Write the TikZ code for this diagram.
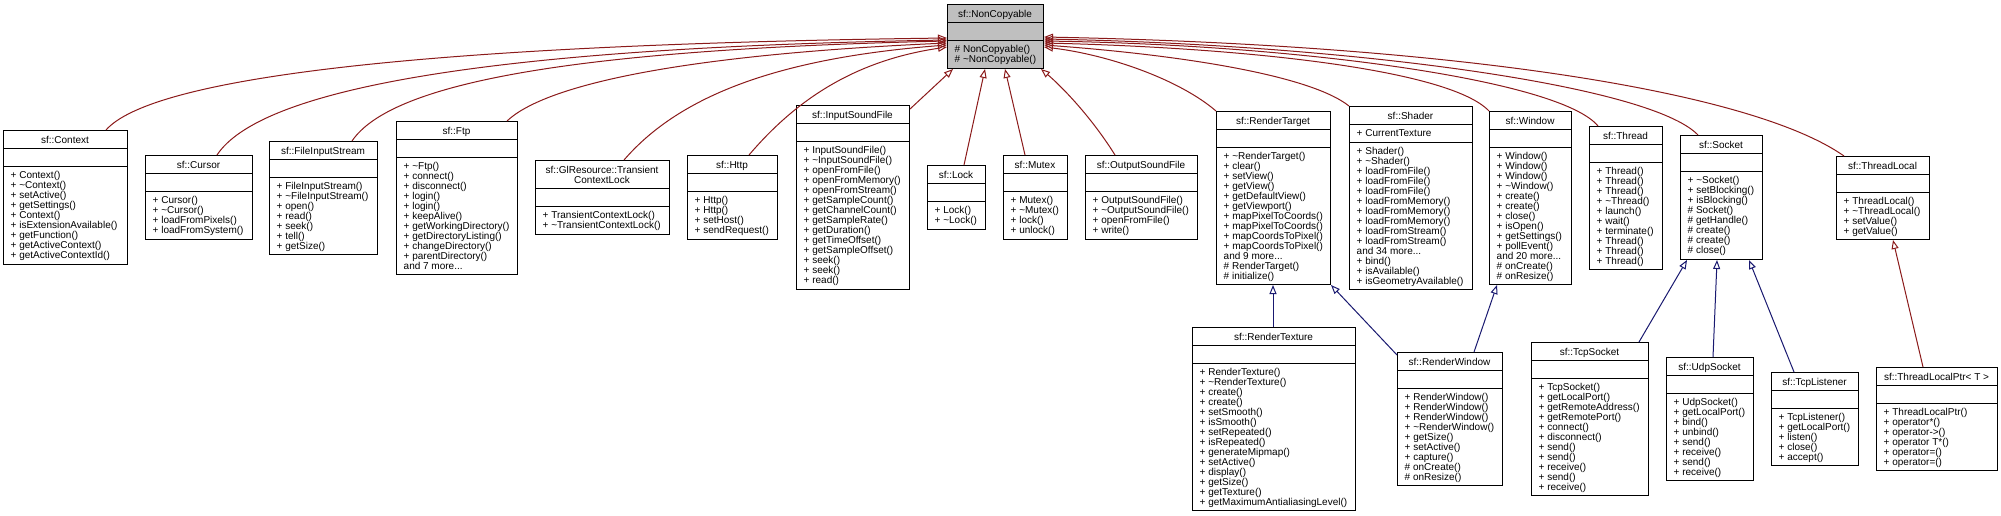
\documentclass[tikz,border=0pt]{standalone}
\usepackage{fontspec}
\setmainfont{Liberation Sans}
\usetikzlibrary{arrows.meta}
\definecolor{privred}{HTML}{8B1A1A}
\definecolor{pubblue}{HTML}{191970}
\definecolor{ncgray}{HTML}{BFBFBF}
\newcommand{\Tld}{\textasciitilde}
\newcommand{\clsfill}{white}
\tikzset{
  clsbox/.style={draw=black, fill=\clsfill, line width=1pt, inner sep=0pt, anchor=north west},
  clstext/.style={font=\fontsize{10}{10}\selectfont, inner sep=0pt},
  inh/.style={line width=1pt, -{Triangle[open, length=9pt, width=7pt]}},
  priv/.style={inh, draw=privred},
  pub/.style={inh, draw=pubblue},
}
% #1 title height, #2 id, #3 left, #4 top, #5 right, #6 bottom, #7 title, #8 attributes, #9 members
\newcommand{\umlclass}[9][18]{%
  \node[clsbox, minimum width={(#5-#3)*1pt}, minimum height={(#6-#4)*1pt}] (#2) at (#3,#4) {};
  \draw[line width=1pt] (#3,{#4+#1}) -- (#5,{#4+#1});
  \draw[line width=1pt] (#3,{#4+#1+18}) -- (#5,{#4+#1+18});
  \node[clstext, anchor=north, align=center] (#2-t) at ({(#3+#5)/2},{#4+5}) {\rule{0pt}{8pt}#7};
  \node[clstext, anchor=north west, align=left] (#2-a) at ({#3+7.5},{#4+#1+4}) {\rule{0pt}{8pt}#8};
  \node[clstext, anchor=north west, align=left] (#2-m) at ({#3+7.5},{#4+#1+22}) {\rule{0pt}{8pt}#9};
}
\begin{document}
\begin{tikzpicture}[x=1pt, y=-1pt]
\fill[white] (0,0) rectangle (2001,515);
\useasboundingbox (0,0) rectangle (2001,515);

% base class
\renewcommand{\clsfill}{ncgray}
\umlclass{nc}{947}{4}{1043}{68}{sf::NonCopyable}{}{\# NonCopyable()\\\# \Tld NonCopyable()}
\renewcommand{\clsfill}{white}

% top row
\umlclass{ctx}{3}{130}{127}{264}{sf::Context}{}{+ Context()\\+ \Tld Context()\\+ setActive()\\+ getSettings()\\+ Context()\\+ isExtensionAvailable()\\+ getFunction()\\+ getActiveContext()\\+ getActiveContextId()}
\umlclass{cur}{145}{155}{252}{239}{sf::Cursor}{}{+ Cursor()\\+ \Tld Cursor()\\+ loadFromPixels()\\+ loadFromSystem()}
\umlclass{fis}{269}{141}{377}{254}{sf::FileInputStream}{}{+ FileInputStream()\\+ \Tld FileInputStream()\\+ open()\\+ read()\\+ seek()\\+ tell()\\+ getSize()}
\umlclass{ftp}{396}{121}{517}{274}{sf::Ftp}{}{+ \Tld Ftp()\\+ connect()\\+ disconnect()\\+ login()\\+ login()\\+ keepAlive()\\+ getWorkingDirectory()\\+ getDirectoryListing()\\+ changeDirectory()\\+ parentDirectory()\\and 7 more...}
\umlclass[28]{tcl}{535}{160}{669}{234}{sf::GlResource::Transient\\ContextLock}{}{+ TransientContextLock()\\+ \Tld TransientContextLock()}
\umlclass{http}{687}{155}{777}{239}{sf::Http}{}{+ Http()\\+ Http()\\+ setHost()\\+ sendRequest()}
\umlclass{isf}{796}{105}{909}{289}{sf::InputSoundFile}{}{+ InputSoundFile()\\+ \Tld InputSoundFile()\\+ openFromFile()\\+ openFromMemory()\\+ openFromStream()\\+ getSampleCount()\\+ getChannelCount()\\+ getSampleRate()\\+ getDuration()\\+ getTimeOffset()\\+ getSampleOffset()\\+ seek()\\+ seek()\\+ read()}
\umlclass{lock}{927}{165}{985}{229}{sf::Lock}{}{+ Lock()\\+ \Tld Lock()}
\umlclass{mtx}{1003}{155}{1067}{239}{sf::Mutex}{}{+ Mutex()\\+ \Tld Mutex()\\+ lock()\\+ unlock()}
\umlclass{osf}{1085}{155}{1197}{239}{sf::OutputSoundFile}{}{+ OutputSoundFile()\\+ \Tld OutputSoundFile()\\+ openFromFile()\\+ write()}
\umlclass{rt}{1216}{111}{1330}{284}{sf::RenderTarget}{}{+ \Tld RenderTarget()\\+ clear()\\+ setView()\\+ getView()\\+ getDefaultView()\\+ getViewport()\\+ mapPixelToCoords()\\+ mapPixelToCoords()\\+ mapCoordsToPixel()\\+ mapCoordsToPixel()\\and 9 more...\\\# RenderTarget()\\\# initialize()}
\umlclass{sh}{1349}{106}{1472}{289}{sf::Shader}{+ CurrentTexture}{+ Shader()\\+ \Tld Shader()\\+ loadFromFile()\\+ loadFromFile()\\+ loadFromFile()\\+ loadFromMemory()\\+ loadFromMemory()\\+ loadFromMemory()\\+ loadFromStream()\\+ loadFromStream()\\and 34 more...\\+ bind()\\+ isAvailable()\\+ isGeometryAvailable()}
\umlclass{win}{1489}{111}{1571}{284}{sf::Window}{}{+ Window()\\+ Window()\\+ Window()\\+ \Tld Window()\\+ create()\\+ create()\\+ close()\\+ isOpen()\\+ getSettings()\\+ pollEvent()\\and 20 more...\\\# onCreate()\\\# onResize()}
\umlclass{thr}{1589}{126}{1662}{269}{sf::Thread}{}{+ Thread()\\+ Thread()\\+ Thread()\\+ \Tld Thread()\\+ launch()\\+ wait()\\+ terminate()\\+ Thread()\\+ Thread()\\+ Thread()}
\umlclass{sock}{1680}{135}{1762}{259}{sf::Socket}{}{+ \Tld Socket()\\+ setBlocking()\\+ isBlocking()\\\# Socket()\\\# getHandle()\\\# create()\\\# create()\\\# close()}
\umlclass{tl}{1836}{156}{1929}{239}{sf::ThreadLocal}{}{+ ThreadLocal()\\+ \Tld ThreadLocal()\\+ setValue()\\+ getValue()}

% bottom row
\umlclass{rtex}{1192}{327}{1355}{510}{sf::RenderTexture}{}{+ RenderTexture()\\+ \Tld RenderTexture()\\+ create()\\+ create()\\+ setSmooth()\\+ isSmooth()\\+ setRepeated()\\+ isRepeated()\\+ generateMipmap()\\+ setActive()\\+ display()\\+ getSize()\\+ getTexture()\\+ getMaximumAntialiasingLevel()}
\umlclass{rwin}{1397}{352}{1502}{485}{sf::RenderWindow}{}{+ RenderWindow()\\+ RenderWindow()\\+ RenderWindow()\\+ \Tld RenderWindow()\\+ getSize()\\+ setActive()\\+ capture()\\\# onCreate()\\\# onResize()}
\umlclass{tcp}{1531}{342}{1648}{495}{sf::TcpSocket}{}{+ TcpSocket()\\+ getLocalPort()\\+ getRemoteAddress()\\+ getRemotePort()\\+ connect()\\+ disconnect()\\+ send()\\+ send()\\+ receive()\\+ send()\\+ receive()}
\umlclass{udp}{1666}{357}{1753}{480}{sf::UdpSocket}{}{+ UdpSocket()\\+ getLocalPort()\\+ bind()\\+ unbind()\\+ send()\\+ receive()\\+ send()\\+ receive()}
\umlclass{tcpl}{1771}{372}{1858}{465}{sf::TcpListener}{}{+ TcpListener()\\+ getLocalPort()\\+ listen()\\+ close()\\+ accept()}
\umlclass{tlp}{1876}{367}{1997}{470}{sf::ThreadLocalPtr< T >}{}{+ ThreadLocalPtr()\\+ operator*()\\+ operator->()\\+ operator T*()\\+ operator=()\\+ operator=()}

% private inheritance from NonCopyable (left side)
\draw[priv] ([shift={(103,0)}]ctx.north west) .. controls (150,80) and (400,45) .. ([shift={(0,34)}]nc.north west);
\draw[priv] ([shift={(72,0)}]cur.north west) .. controls (260,90) and (480,48) .. ([shift={(0,36)}]nc.north west);
\draw[priv] ([shift={(83,0)}]fis.north west) .. controls (390,85) and (560,50) .. ([shift={(0,37)}]nc.north west);
\draw[priv] ([shift={(111,0)}]ftp.north west) .. controls (545,85) and (680,55) .. ([shift={(0,39)}]nc.north west);
\draw[priv] ([shift={(89,0)}]tcl.north west) .. controls (680,95) and (780,58) .. ([shift={(0,41)}]nc.north west);
\draw[priv] ([shift={(62,0)}]http.north west) .. controls (800,95) and (860,60) .. ([shift={(0,43)}]nc.north west);
\draw[priv] ([shift={(0,4)}]isf.north east) -- ([shift={(6,0)}]nc.south west);
% bottom
\draw[priv] ([shift={(37,0)}]lock.north west) -- ([shift={(38,0)}]nc.south west);
\draw[priv] ([shift={(22,0)}]mtx.north west) -- ([shift={(58,0)}]nc.south west);
\draw[priv] ([shift={(30,0)}]osf.north west) .. controls (1090,115) and (1060,85) .. ([shift={(94,0)}]nc.south west);
% right side
\draw[priv] (rt.north west) .. controls (1180,80) and (1110,55) .. ([shift={(0,43)}]nc.north east);
\draw[priv] (sh.north west) .. controls (1310,75) and (1180,55) .. ([shift={(0,41)}]nc.north east);
\draw[priv] (win.north west) .. controls (1450,70) and (1250,48) .. ([shift={(0,39)}]nc.north east);
\draw[priv] ([shift={(9,0)}]thr.north west) .. controls (1560,80) and (1300,45) .. ([shift={(0,37)}]nc.north east);
\draw[priv] ([shift={(18,0)}]sock.north west) .. controls (1650,85) and (1350,45) .. ([shift={(0,35)}]nc.north east);
\draw[priv] ([shift={(8,0)}]tl.north west) .. controls (1750,90) and (1450,45) .. ([shift={(0,33)}]nc.north east);

% public inheritance
\draw[pub] ([shift={(81,0)}]rtex.north west) -- ([shift={(57,0)}]rt.south west);
\draw[pub] ([shift={(0,3)}]rwin.north west) -- (rt.south east);
\draw[pub] ([shift={(77,0)}]rwin.north west) -- ([shift={(8,0)}]win.south west);
\draw[pub] ([shift={(108,0)}]tcp.north west) -- ([shift={(7,0)}]sock.south west);
\draw[pub] ([shift={(47,0)}]udp.north west) -- ([shift={(37,0)}]sock.south west);
\draw[pub] ([shift={(23,0)}]tcpl.north west) -- ([shift={(69,0)}]sock.south west);
% ThreadLocalPtr -> ThreadLocal
\draw[priv] ([shift={(47,0)}]tlp.north west) -- ([shift={(57,0)}]tl.south west);
\end{tikzpicture}
\end{document}
